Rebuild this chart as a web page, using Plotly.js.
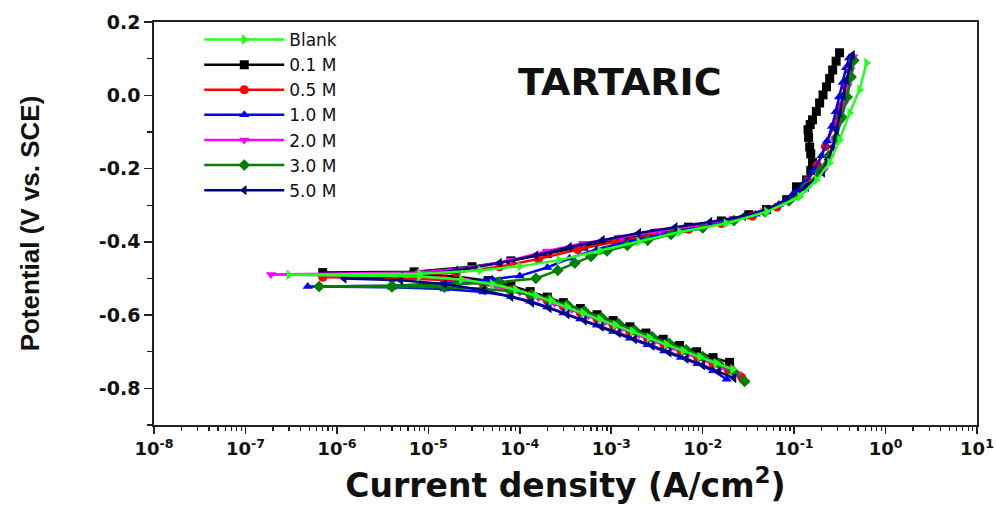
<!DOCTYPE html>
<html>
<head>
<meta charset="utf-8">
<script src="https://cdn.plot.ly/plotly-3.0.1.min.js"></script>
<style>html,body{margin:0;padding:0;background:#fff;}#chart{width:996px;height:505px;}</style>
</head>
<body>
<div id="chart"></div>
<script>
// Series names
const seriesNames = ["Blank", "0.1 M", "0.5 M", "1.0 M", "2.0 M", "3.0 M", "5.0 M"];

// Current density (A/cm2) and potential (V vs SCE)
const blank_I = [2.13e-2,1.4e-2,9.3e-3,6.1e-3,4.0e-3,2.6e-3,1.7e-3,1.1e-3,7.5e-4,4.9e-4,3.3e-4,2.2e-4,1.5e-4,9e-5,5e-5,2.3e-5,8e-6,3e-7,8e-6,3.7e-5,1e-4,2.7e-4,7.5e-4,2.0e-3,5.6e-3,1.8e-2,5.0e-2,1.15e-1,1.76e-1,2.44e-1,3.14e-1,4.05e-1,5.2e-1,6.2e-1];
const blank_E = [-0.748,-0.731,-0.714,-0.697,-0.680,-0.662,-0.644,-0.627,-0.611,-0.594,-0.577,-0.561,-0.547,-0.531,-0.515,-0.503,-0.495,-0.490,-0.487,-0.478,-0.467,-0.450,-0.424,-0.400,-0.373,-0.350,-0.318,-0.277,-0.231,-0.184,-0.122,-0.048,0.015,0.088];

const m01_I = [1.97e-2,1.3e-2,8.6e-3,5.6e-3,3.7e-3,2.4e-3,1.6e-3,1.05e-3,7e-4,4.6e-4,3.0e-4,2.0e-4,1.3e-4,8e-5,4.5e-5,2e-5,7e-6,7e-7,7e-6,3e-5,8e-5,2e-4,5e-4,1.2e-3,3e-3,7e-3,1.6e-2,3.2e-2,5.0e-2,8.3e-2,1.06e-1,1.37e-1,1.52e-1,1.59e-1,1.52e-1,1.48e-1,1.44e-1,1.42e-1,1.5e-1,1.59e-1,1.75e-1,1.9e-1,2.07e-1,2.26e-1,2.45e-1,2.64e-1,2.88e-1,3.14e-1];
const m01_E = [-0.729,-0.716,-0.700,-0.683,-0.666,-0.649,-0.632,-0.615,-0.599,-0.582,-0.566,-0.551,-0.536,-0.520,-0.506,-0.495,-0.488,-0.484,-0.482,-0.468,-0.452,-0.432,-0.412,-0.395,-0.377,-0.360,-0.343,-0.326,-0.312,-0.285,-0.250,-0.231,-0.205,-0.184,-0.160,-0.141,-0.115,-0.094,-0.080,-0.067,-0.044,-0.021,0.001,0.023,0.046,0.069,0.093,0.116];

const m05_I = [2.67e-2,1.9e-2,1.3e-2,8.8e-3,5.8e-3,3.8e-3,2.5e-3,1.6e-3,1.05e-3,7e-4,4.6e-4,3.0e-4,2.0e-4,1.3e-4,8e-5,4e-5,1.5e-5,4e-6,7e-7,4e-6,2e-5,6e-5,1.6e-4,4.3e-4,1.1e-3,2.8e-3,7e-3,1.6e-2,3.5e-2,6.5e-2,1.0e-1,1.4e-1,1.8e-1,2.2e-1,2.7e-1,3.2e-1,3.65e-1,4.0e-1,4.3e-1];
const m05_E = [-0.770,-0.750,-0.733,-0.716,-0.699,-0.682,-0.664,-0.646,-0.628,-0.611,-0.594,-0.577,-0.561,-0.546,-0.531,-0.515,-0.504,-0.499,-0.497,-0.494,-0.484,-0.468,-0.447,-0.421,-0.400,-0.382,-0.366,-0.350,-0.330,-0.305,-0.275,-0.235,-0.190,-0.140,-0.085,-0.030,0.025,0.070,0.100];

const m10_I = [1.83e-2,1.3e-2,8.8e-3,5.8e-3,3.8e-3,2.5e-3,1.6e-3,1.05e-3,7e-4,4.6e-4,3.0e-4,2.0e-4,1.3e-4,8e-5,4e-5,1.5e-5,4e-6,4.8e-7,4e-6,2e-5,5e-5,1e-4,2e-4,3.5e-4,7e-4,1.5e-3,3.5e-3,8e-3,1.8e-2,3.8e-2,6.8e-2,1.0e-1,1.3e-1,1.65e-1,2.0e-1,2.3e-1,2.6e-1,2.85e-1,3.1e-1,3.4e-1,3.7e-1,4.0e-1];
const m10_E = [-0.775,-0.752,-0.733,-0.716,-0.698,-0.681,-0.663,-0.645,-0.628,-0.611,-0.594,-0.578,-0.562,-0.549,-0.537,-0.529,-0.524,-0.522,-0.520,-0.512,-0.502,-0.493,-0.470,-0.445,-0.420,-0.400,-0.380,-0.363,-0.345,-0.325,-0.298,-0.268,-0.240,-0.205,-0.165,-0.125,-0.085,-0.045,-0.005,0.035,0.075,0.102];

const m20_I = [2.4e-2,1.6e-2,1.05e-2,7e-3,4.6e-3,3.0e-3,2.0e-3,1.3e-3,8.5e-4,5.6e-4,3.7e-4,2.4e-4,1.6e-4,1e-4,5.5e-5,2.5e-5,8e-6,1.9e-7,8e-6,3e-5,8e-5,2e-4,5e-4,1.3e-3,3.4e-3,9e-3,2.2e-2,4.8e-2,8.8e-2,1.4e-1,2.1e-1,2.45e-1,2.8e-1,3.15e-1,3.5e-1,3.85e-1,4.15e-1,4.45e-1];
const m20_E = [-0.760,-0.740,-0.722,-0.705,-0.688,-0.671,-0.654,-0.636,-0.619,-0.602,-0.585,-0.568,-0.553,-0.537,-0.520,-0.505,-0.494,-0.489,-0.484,-0.470,-0.450,-0.425,-0.404,-0.387,-0.370,-0.354,-0.336,-0.315,-0.285,-0.248,-0.205,-0.165,-0.125,-0.075,-0.025,0.025,0.070,0.105];

const m30_I = [2.88e-2,2.2e-2,1.5e-2,1.0e-2,6.6e-3,4.3e-3,2.8e-3,1.8e-3,1.2e-3,7.8e-4,5.1e-4,3.3e-4,2.1e-4,1.35e-4,8e-5,4e-5,1.5e-5,4e-6,6.4e-7,4e-6,2e-5,6e-5,1.5e-4,2.6e-4,4e-4,6e-4,9e-4,1.5e-3,2.5e-3,4.5e-3,1e-2,2.2e-2,4.8e-2,8.8e-2,1.35e-1,1.9e-1,2.4e-1,2.9e-1,3.35e-1,3.8e-1,4.2e-1,4.5e-1];
const m30_E = [-0.781,-0.755,-0.733,-0.713,-0.695,-0.677,-0.659,-0.641,-0.623,-0.606,-0.589,-0.572,-0.557,-0.545,-0.535,-0.528,-0.524,-0.523,-0.522,-0.520,-0.516,-0.510,-0.500,-0.478,-0.458,-0.440,-0.425,-0.410,-0.396,-0.380,-0.362,-0.342,-0.318,-0.288,-0.250,-0.208,-0.165,-0.115,-0.060,-0.005,0.050,0.095];

const m50_I = [2.2e-2,1.5e-2,1.0e-2,6.6e-3,4.3e-3,2.8e-3,1.8e-3,1.2e-3,7.8e-4,5.1e-4,3.3e-4,2.1e-4,1.35e-4,8e-5,4e-5,1.5e-5,5e-6,1.2e-6,5e-6,2e-5,6e-5,1.5e-4,3.5e-4,8e-4,2e-3,5e-3,1.2e-2,2.8e-2,5.0e-2,8.3e-2,1.37e-1,2.05e-1,2.35e-1,2.64e-1,2.9e-1,3.14e-1,3.45e-1,3.75e-1,4.05e-1,4.35e-1];
const m50_E = [-0.772,-0.754,-0.737,-0.719,-0.702,-0.684,-0.666,-0.649,-0.632,-0.615,-0.598,-0.581,-0.566,-0.550,-0.532,-0.515,-0.505,-0.500,-0.494,-0.478,-0.458,-0.437,-0.414,-0.395,-0.376,-0.360,-0.346,-0.330,-0.312,-0.285,-0.250,-0.211,-0.175,-0.141,-0.095,-0.048,0.000,0.042,0.080,0.110];

const xTickVals = [1e-8,1e-7,1e-6,1e-5,1e-4,1e-3,1e-2,1e-1,1e0,1e1];
const xTickText = ["10<sup>-8</sup>","10<sup>-7</sup>","10<sup>-6</sup>","10<sup>-5</sup>","10<sup>-4</sup>","10<sup>-3</sup>","10<sup>-2</sup>","10<sup>-1</sup>","10<sup>0</sup>","10<sup>1</sup>"];
const yTickVals = [0.2,0.0,-0.2,-0.4,-0.6,-0.8];
const yTickText = ["0.2","0.0","-0.2","-0.4","-0.6","-0.8"];

const data = [
  {I: m01_I, E: m01_E, name: seriesNames[1], color: "#000000", symbol: "square", rank: 2},
  {I: m05_I, E: m05_E, name: seriesNames[2], color: "#ff0000", symbol: "circle", rank: 3},
  {I: m10_I, E: m10_E, name: seriesNames[3], color: "#0000ff", symbol: "triangle-up", rank: 4},
  {I: m20_I, E: m20_E, name: seriesNames[4], color: "#ff00ff", symbol: "triangle-down", rank: 5},
  {I: m30_I, E: m30_E, name: seriesNames[5], color: "#008000", symbol: "diamond", rank: 6},
  {I: m50_I, E: m50_E, name: seriesNames[6], color: "#000080", symbol: "triangle-left", rank: 7},
  {I: blank_I, E: blank_E, name: seriesNames[0], color: "#22ff22", symbol: "triangle-right", rank: 1}
];

const traces = data.map(d => ({
  x: d.I, y: d.E, name: d.name, type: "scatter", mode: "lines+markers",
  line: {color: d.color, width: 2.5},
  marker: {color: d.color, symbol: d.symbol, size: 9},
  legendrank: d.rank
}));

const boldFont = "DejaVu Sans, Liberation Sans, Arial, sans-serif";

const layout = {
  width: 996, height: 505,
  margin: {l: 154, r: 19, t: 22, b: 80},
  paper_bgcolor: "#fff", plot_bgcolor: "#fff",
  showlegend: true,
  legend: {x: 0.055, y: 1.0, xanchor: "left", yanchor: "top", bgcolor: "rgba(0,0,0,0)",
           font: {family: boldFont, size: 17, color: "#111"},
           itemwidth: 80, tracegroupgap: 0},
  xaxis: {
    type: "log", range: [-8, 1], tickmode: "array", tickvals: xTickVals, ticktext: xTickText,
    ticks: "outside", ticklen: 7, tickwidth: 1.5, tickcolor: "#222",
    minor: {dtick: "D1", ticks: "outside", ticklen: 4, tickwidth: 1.2, tickcolor: "#222"},
    showline: true, linecolor: "#222", linewidth: 1.8, mirror: true, showgrid: false, zeroline: false,
    tickfont: {family: boldFont, size: 18, color: "#111", weight: "bold"},
    title: {text: "<b>Current density (A/cm<sup>2</sup>)</b>", font: {family: boldFont, size: 33, color: "#111"}, standoff: 20}
  },
  yaxis: {
    range: [-0.9, 0.2], tickmode: "array", tickvals: yTickVals, ticktext: yTickText,
    ticks: "outside", ticklen: 8, tickwidth: 1.5, tickcolor: "#222",
    minor: {dtick: 0.1, tick0: 0, ticks: "outside", ticklen: 5, tickwidth: 1.2, tickcolor: "#222"},
    showline: true, linecolor: "#222", linewidth: 1.8, mirror: true, showgrid: false, zeroline: false,
    tickfont: {family: boldFont, size: 19, color: "#111", weight: "bold"},
    title: {text: "<b>Potential (V vs. SCE)</b>", font: {family: "Liberation Sans, Arial, sans-serif", size: 26, color: "#111"}, standoff: 52}
  },
  annotations: [{
    text: "<b>TARTARIC</b>", xref: "paper", yref: "paper", x: 0.566, y: 0.851,
    xanchor: "center", yanchor: "middle",
    showarrow: false, font: {family: boldFont, size: 38, color: "#111"}
  }]
};

Plotly.newPlot("chart", traces, layout, {displayModeBar: false, staticPlot: true});
</script>
</body>
</html>
